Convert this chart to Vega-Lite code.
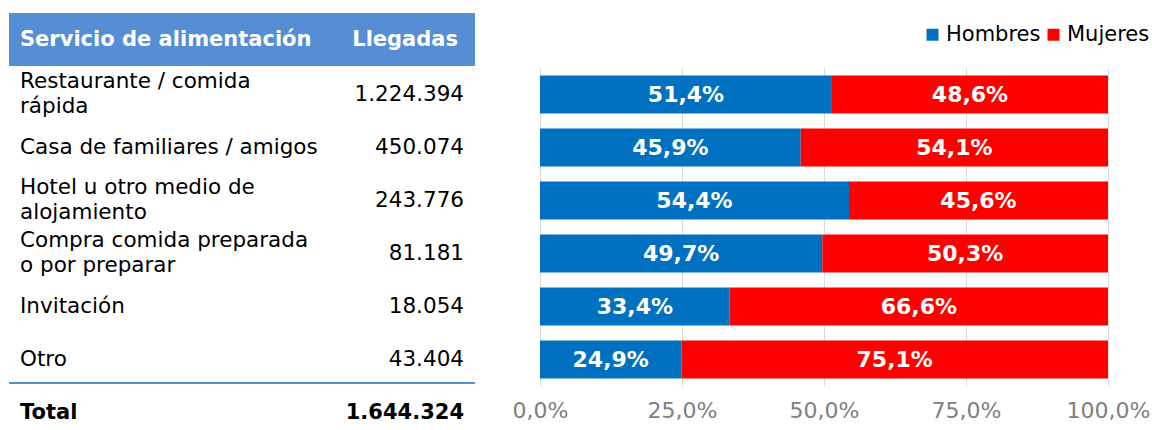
{
  "$schema": "https://vega.github.io/schema/vega-lite/v6.json",
  "padding": {"left": 8, "top": 13, "right": 0, "bottom": 0},
  "bounds": "flush",
  "spacing": 65,
  "config": {
    "view": {"stroke": null},
    "locale": {"number": {"decimal": ",", "thousands": ".", "grouping": [3], "currency": ["", " €"]}},
    "text": {"font": "DejaVu Sans"}
  },
  "datasets": {
    "tabla": [
      {"servicio": "Restaurante / comida\nrápida", "llegadas": 1224394},
      {"servicio": "Casa de familiares / amigos", "llegadas": 450074},
      {"servicio": "Hotel u otro medio de\nalojamiento", "llegadas": 243776},
      {"servicio": "Compra comida preparada\no por preparar", "llegadas": 81181},
      {"servicio": "Invitación", "llegadas": 18054},
      {"servicio": "Otro", "llegadas": 43404}
    ],
    "total": [{"servicio": "Total", "llegadas": 1644324}],
    "encabezado": [{"servicio": "Servicio de alimentación", "columna2": "Llegadas"}],
    "sexo": [
      {"servicio": "Restaurante / comida\nrápida", "sexo": "Hombres", "pct": 0.514},
      {"servicio": "Restaurante / comida\nrápida", "sexo": "Mujeres", "pct": 0.486},
      {"servicio": "Casa de familiares / amigos", "sexo": "Hombres", "pct": 0.459},
      {"servicio": "Casa de familiares / amigos", "sexo": "Mujeres", "pct": 0.541},
      {"servicio": "Hotel u otro medio de\nalojamiento", "sexo": "Hombres", "pct": 0.544},
      {"servicio": "Hotel u otro medio de\nalojamiento", "sexo": "Mujeres", "pct": 0.456},
      {"servicio": "Compra comida preparada\no por preparar", "sexo": "Hombres", "pct": 0.497},
      {"servicio": "Compra comida preparada\no por preparar", "sexo": "Mujeres", "pct": 0.503},
      {"servicio": "Invitación", "sexo": "Hombres", "pct": 0.334},
      {"servicio": "Invitación", "sexo": "Mujeres", "pct": 0.666},
      {"servicio": "Otro", "sexo": "Hombres", "pct": 0.249},
      {"servicio": "Otro", "sexo": "Mujeres", "pct": 0.751}
    ]
  },
  "hconcat": [
    {
      "width": 466,
      "height": 318,
      "layer": [
        {
          "data": {"name": "encabezado"},
          "mark": {"type": "rect", "color": "#558ED5", "yOffset": -2},
          "encoding": {
            "y": {"field": "servicio", "type": "nominal"}
          }
        },
        {
          "data": {"name": "encabezado"},
          "mark": {"type": "text", "align": "left", "baseline": "middle", "fontWeight": "bold", "fontSize": 21, "color": "white", "yOffset": -2},
          "encoding": {
            "y": {"field": "servicio", "type": "nominal"},
            "x": {"datum": "c1", "type": "nominal", "axis": null, "scale": {"type": "point", "domain": ["c1", "c2"], "range": [11, 455], "padding": 0}},
            "text": {"field": "servicio"}
          }
        },
        {
          "data": {"name": "encabezado"},
          "mark": {"type": "text", "align": "right", "baseline": "middle", "fontWeight": "bold", "fontSize": 21, "color": "white", "yOffset": -2, "dx": -6},
          "encoding": {
            "y": {"field": "servicio", "type": "nominal"},
            "x": {"datum": "c2", "type": "nominal", "axis": null},
            "text": {"field": "columna2"}
          }
        },
        {
          "data": {"name": "tabla"},
          "transform": [{"filter": "indexof(datum.servicio, '\\n') < 0"}],
          "mark": {"type": "text", "align": "left", "baseline": "middle", "fontSize": 21.5, "color": "black"},
          "encoding": {
            "y": {"field": "servicio", "type": "nominal"},
            "x": {"datum": "c1", "type": "nominal", "axis": null},
            "text": {"field": "servicio"}
          }
        },
        {
          "data": {"name": "tabla"},
          "transform": [{"filter": "indexof(datum.servicio, '\\n') >= 0"}],
          "mark": {"type": "text", "align": "left", "baseline": "middle", "fontSize": 21.5, "color": "black", "lineBreak": "\n", "lineHeight": 25, "dy": -13},
          "encoding": {
            "y": {"field": "servicio", "type": "nominal"},
            "x": {"datum": "c1", "type": "nominal", "axis": null},
            "text": {"field": "servicio"}
          }
        },
        {
          "data": {"name": "tabla"},
          "mark": {"type": "text", "align": "right", "baseline": "middle", "fontSize": 21.5, "color": "black"},
          "encoding": {
            "y": {"field": "servicio", "type": "nominal"},
            "x": {"datum": "c2", "type": "nominal", "axis": null},
            "text": {"field": "llegadas", "type": "quantitative", "format": ",d"}
          }
        },
        {
          "data": {"name": "total"},
          "mark": {"type": "rule", "color": "#558ED5", "strokeWidth": 2, "yOffset": -3},
          "encoding": {
            "y": {"field": "servicio", "type": "nominal", "bandPosition": 0}
          }
        },
        {
          "data": {"name": "total"},
          "mark": {"type": "text", "align": "left", "baseline": "middle", "fontSize": 21, "fontWeight": "bold", "color": "black"},
          "encoding": {
            "y": {"field": "servicio", "type": "nominal"},
            "x": {"datum": "c1", "type": "nominal", "axis": null},
            "text": {"field": "servicio"}
          }
        },
        {
          "data": {"name": "total"},
          "mark": {"type": "text", "align": "right", "baseline": "middle", "fontSize": 21, "fontWeight": "bold", "color": "black"},
          "encoding": {
            "y": {"field": "servicio", "type": "nominal"},
            "x": {"datum": "c2", "type": "nominal", "axis": null},
            "text": {"field": "llegadas", "type": "quantitative", "format": ",d"}
          }
        }
      ],
      "resolve": {"scale": {"x": "shared", "y": "shared"}},
      "encoding": {
        "y": {
          "field": "servicio",
          "type": "nominal",
          "axis": null,
          "scale": {
            "type": "band",
            "domain": ["Servicio de alimentación", "Restaurante / comida\nrápida", "Casa de familiares / amigos", "Hotel u otro medio de\nalojamiento", "Compra comida preparada\no por preparar", "Invitación", "Otro", "Total"],
            "range": [-53, 371],
            "paddingInner": 0,
            "paddingOuter": 0
          }
        }
      }
    },
    {
      "width": 568,
      "height": 318,
      "data": {"name": "sexo"},
      "transform": [
        {"stack": "pct", "groupby": ["servicio"], "sort": [{"field": "sexo", "order": "ascending"}], "as": ["p0", "p1"]},
        {"calculate": "(datum.p0 + datum.p1) / 2", "as": "pmid"}
      ],
      "encoding": {
        "y": {
          "field": "servicio",
          "type": "nominal",
          "axis": null,
          "sort": ["Restaurante / comida\nrápida", "Casa de familiares / amigos", "Hotel u otro medio de\nalojamiento", "Compra comida preparada\no por preparar", "Invitación", "Otro"],
          "scale": {"paddingInner": 0.28, "paddingOuter": 0.14}
        }
      },
      "layer": [
        {
          "mark": {"type": "bar"},
          "encoding": {
            "x": {
              "field": "p0",
              "type": "quantitative",
              "scale": {"domain": [0, 1], "nice": false},
              "axis": {
                "values": [0, 0.25, 0.5, 0.75, 1],
                "format": ".1%",
                "title": null,
                "grid": true,
                "gridColor": "#d9d9d9",
                "gridWidth": 1,
                "domain": false,
                "ticks": false,
                "labelFont": "DejaVu Sans",
                "labelFontSize": 22,
                "labelColor": "#808080",
                "labelPadding": 14,
                "labelFlush": false
              }
            },
            "x2": {"field": "p1"},
            "color": {
              "field": "sexo",
              "type": "nominal",
              "scale": {"domain": ["Hombres", "Mujeres"], "range": ["#0070C0", "#FF0000"]},
              "legend": {
                "title": null,
                "orient": "none",
                "direction": "horizontal",
                "legendX": 913,
                "legendY": -44,
                "symbolType": "square",
                "symbolSize": 144,
                "symbolStrokeWidth": 0,
                "symbolOpacity": 1,
                "labelFont": "DejaVu Sans",
                "labelFontSize": 21,
                "labelColor": "#000000",
                "labelOffset": 3,
                "columnPadding": 2
              }
            }
          }
        },
        {
          "mark": {"type": "text", "align": "center", "baseline": "middle", "font": "DejaVu Sans", "fontWeight": "bold", "fontSize": 22, "color": "white"},
          "encoding": {
            "x": {"field": "pmid", "type": "quantitative"},
            "text": {"field": "pct", "type": "quantitative", "format": ".1%"}
          }
        }
      ]
    }
  ]
}
